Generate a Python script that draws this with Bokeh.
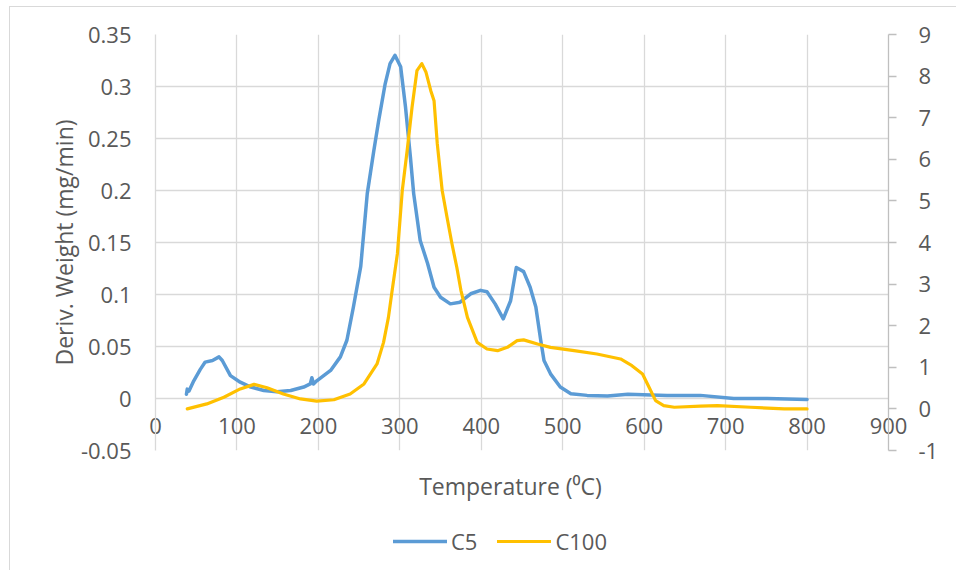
from bokeh.plotting import figure
from bokeh.layouts import column
from bokeh.models import (Range1d, LinearAxis, FixedTicker, CustomJSTickFormatter,
                          Legend, LegendItem, Label)
from bokeh.embed import file_html
from bokeh.resources import INLINE

# ---------------- data ----------------
c5_temp = [38, 39, 41, 47, 55, 61, 70, 78, 82, 92, 104, 117, 133, 149, 166, 182,
           190, 192, 194, 198, 215, 227, 235, 243, 252, 260, 268, 274, 282, 288,
           294, 301, 307, 313, 317, 325, 334, 342, 350, 362, 374, 387, 399, 407,
           417, 427, 436, 443, 452, 460, 467, 473, 477, 485, 497, 510, 530, 555,
           580, 628, 669, 710, 751, 800]
c5_deriv = [0.004, 0.009, 0.007, 0.017, 0.028, 0.035, 0.0365, 0.040, 0.0365, 0.022,
            0.0157, 0.011, 0.0077, 0.0064, 0.0077, 0.011, 0.014, 0.020, 0.014, 0.017,
            0.027, 0.040, 0.056, 0.088, 0.127, 0.197, 0.238, 0.267, 0.3026, 0.322,
            0.330, 0.319, 0.280, 0.232, 0.197, 0.152, 0.130, 0.107, 0.0974, 0.091,
            0.0926, 0.1007, 0.104, 0.1026, 0.091, 0.0766, 0.094, 0.126, 0.122, 0.107,
            0.088, 0.056, 0.0365, 0.0237, 0.011, 0.0045, 0.003, 0.0023, 0.004, 0.003,
            0.003, 0.000, 0.000, -0.001]

c100_temp = [39, 63, 84, 104, 121, 137, 157, 178, 198, 219, 239, 256, 272, 280, 286,
             290, 297, 303, 309, 315, 321, 327, 332, 338, 342, 346, 352, 358, 364,
             370, 375, 383, 395, 407, 420, 432, 444, 452, 469, 485, 514, 542, 571,
             585, 598, 606, 614, 624, 637, 669, 690, 731, 772, 800]
c100_deriv = [0.00, 0.12, 0.28, 0.48, 0.59, 0.51, 0.36, 0.24, 0.185, 0.22, 0.36, 0.60,
              1.08, 1.60, 2.20, 2.77, 3.73, 5.25, 6.21, 7.25, 8.13, 8.30, 8.10, 7.65,
              7.41, 6.37, 5.25, 4.60, 3.97, 3.40, 2.85, 2.20, 1.60, 1.44, 1.40, 1.48,
              1.64, 1.66, 1.56, 1.48, 1.40, 1.32, 1.20, 1.04, 0.84, 0.52, 0.20, 0.08,
              0.04, 0.065, 0.08, 0.04, 0.00, 0.00]

x_ticks = [0, 100, 200, 300, 400, 500, 600, 700, 800, 900]
left_ticks = [-0.05, 0, 0.05, 0.1, 0.15, 0.2, 0.25, 0.3, 0.35]
right_ticks = [-1, 0, 1, 2, 3, 4, 5, 6, 7, 8, 9]

x_title = "Temperature (\u2070C)"
y_title = "Deriv. Weight (mg/min)"
series_names = ["C5", "C100"]

# ---------------- styling ----------------
FONT = "Open Sans"
TXT = "#595959"
GRID = "#d9d9d9"
AXIS = "#bfbfbf"
BLUE = "#5b9bd5"
YELLOW = "#ffc000"
TICK_FS = "22px"
TITLE_FS = "23px"

W_LEFT, W_FRAME, W_RIGHT = 145, 733, 68

p = figure(frame_width=W_FRAME, frame_height=416,
           x_range=Range1d(0, 900), y_range=Range1d(-0.05, 0.35),
           output_backend="svg", toolbar_location=None,
           min_border_left=W_LEFT, min_border_right=W_RIGHT,
           min_border_top=27, min_border_bottom=20)
p.outline_line_color = None
p.background_fill_color = "white"
p.border_fill_color = "white"

p.extra_y_ranges = {"right": Range1d(-1, 9)}

plain = CustomJSTickFormatter(code="return String(tick)")

# x axis: labels pulled up so they sit just under the zero line
xa = p.xaxis[0]
xa.ticker = FixedTicker(ticks=x_ticks)
xa.formatter = plain
xa.axis_line_color = None
xa.major_tick_line_color = None
xa.minor_tick_line_color = None
xa.major_tick_out = 0
xa.major_tick_in = 0
xa.major_label_standoff = -33
xa.major_label_text_font = FONT
xa.major_label_text_font_size = TICK_FS
xa.major_label_text_color = TXT

# left axis
ya = p.yaxis[0]
ya.ticker = FixedTicker(ticks=left_ticks)
ya.formatter = plain
ya.axis_line_color = GRID
ya.axis_line_width = 1.3
ya.major_tick_line_color = None
ya.minor_tick_line_color = None
ya.major_tick_out = 0
ya.major_label_standoff = 24
ya.major_label_text_font = FONT
ya.major_label_text_font_size = TICK_FS
ya.major_label_text_color = TXT
ya.axis_label = y_title
ya.axis_label_text_font = FONT
ya.axis_label_text_font_size = TITLE_FS
ya.axis_label_text_font_style = "normal"
ya.axis_label_text_color = TXT
ya.axis_label_standoff = -2

# right axis
ra = LinearAxis(y_range_name="right", ticker=FixedTicker(ticks=right_ticks),
                formatter=plain)
ra.axis_line_color = AXIS
ra.axis_line_width = 1.3
ra.major_tick_line_color = AXIS
ra.major_tick_line_width = 1.3
ra.major_tick_out = 8
ra.major_tick_in = 0
ra.minor_tick_line_color = None
ra.major_label_standoff = 22
ra.major_label_text_font = FONT
ra.major_label_text_font_size = TICK_FS
ra.major_label_text_color = TXT
p.add_layout(ra, "right")

# grid
p.xgrid.ticker = FixedTicker(ticks=x_ticks)
p.ygrid.ticker = FixedTicker(ticks=left_ticks)
p.xgrid.grid_line_color = GRID
p.ygrid.grid_line_color = GRID
p.xgrid.grid_line_width = 1.3
p.ygrid.grid_line_width = 1.3

# series
line_c5 = dict(line_color=BLUE, line_width=3.5, line_join="round", line_cap="round")
line_c100 = dict(line_color=YELLOW, line_width=3.2, line_join="round", line_cap="round")
p.line(c5_temp, c5_deriv, **line_c5)
p.line(c100_temp, c100_deriv, y_range_name="right", **line_c100)

# ---------- strip below the chart: x-axis title and legend ----------
p2 = figure(width=W_LEFT + W_FRAME + W_RIGHT, height=100,
            x_range=Range1d(-2000, -1000), y_range=Range1d(-2000, -1000),
            output_backend="svg", toolbar_location=None,
            x_axis_location=None, y_axis_location=None,
            min_border=0)
p2.outline_line_color = None
p2.grid.visible = False
p2.background_fill_color = "white"
p2.border_fill_color = "white"

# legend entries reuse the same series (their lines fall outside this strip's ranges)
l5 = p2.line(c5_temp, c5_deriv, **line_c5)
l100 = p2.line(c100_temp, c100_deriv, **line_c100)

p2.add_layout(Label(x=355, y=85, x_units="screen", y_units="screen", text=x_title,
                    text_align="center", text_baseline="middle",
                    text_font=FONT, text_font_size=TITLE_FS, text_color=TXT))

legend = Legend(items=[LegendItem(label=series_names[0], renderers=[l5]),
                       LegendItem(label=series_names[1], renderers=[l100])],
                orientation="horizontal", location=(238, 14),
                glyph_width=54, glyph_height=20, label_standoff=4, spacing=20,
                padding=0, margin=0,
                label_text_font=FONT, label_text_font_size=TICK_FS,
                label_text_color=TXT, border_line_color=None,
                background_fill_alpha=0)
p2.add_layout(legend, "center")

layout = column(p, p2, spacing=0)
layout.margin = (6, 0, 0, 9)
layout.styles = {"border-left": "1px solid #d9d9d9", "border-top": "1px solid #d9d9d9"}

open("out.html", "w").write(file_html(layout, INLINE))
